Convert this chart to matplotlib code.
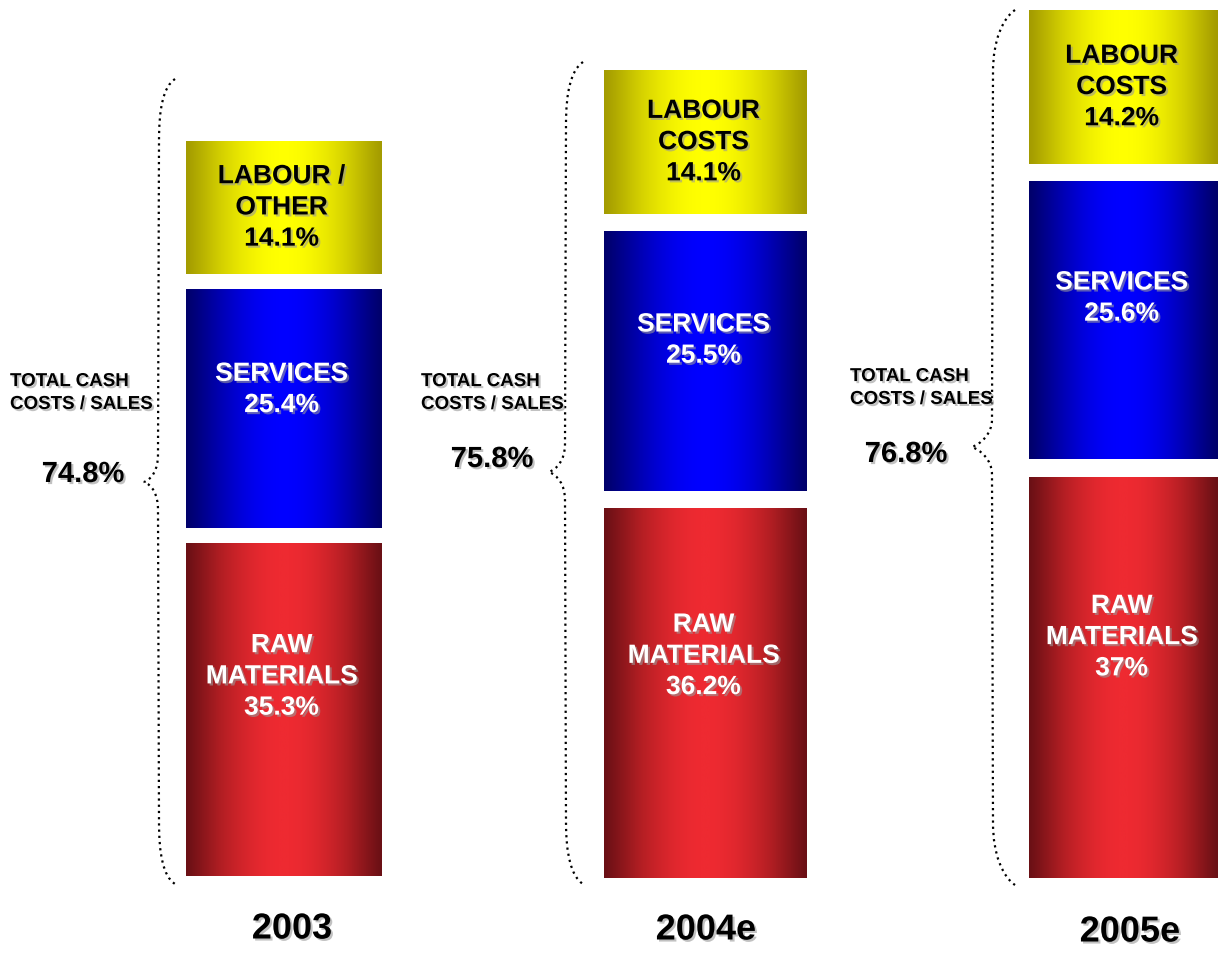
"""
Cash cost structure per year: stacked segments with a brace showing the total.
"""

import numpy as np
import matplotlib
matplotlib.use("Agg")
import matplotlib.pyplot as plt
import matplotlib.patheffects as pe
from matplotlib.colors import LinearSegmentedColormap
from matplotlib.path import Path
from matplotlib.patches import PathPatch

years = ["2003", "2004e", "2005e"]
raw_materials = [35.3, 36.2, 37.0]
services = [25.4, 25.5, 25.6]
labour = [14.1, 14.1, 14.2]
labour_names = ["LABOUR /\nOTHER", "LABOUR\nCOSTS", "LABOUR\nCOSTS"]

W, H = 1224, 954
GAP = 1.6  # white space between segments, in % units

# bar boxes in pixels: left, right, top, bottom
bar_boxes = [(186, 381, 142, 877), (604, 807, 71, 879), (1029, 1218, 11, 879)]
# braces: tip x, body x, point x, top y, point y, bottom y
braces = [(175, 159, 144, 80, 483, 885),
          (583, 566, 549, 63, 473, 885),
          (1015, 993, 972, 11, 448, 886)]
note_pos = [(10, 394), (421, 394), (850, 389)]
total_pos = [(83, 475), (492, 460), (906, 455)]
year_pos = [(292, 930), (706, 931), (1130, 933)]

cmaps = {
    "raw": LinearSegmentedColormap.from_list("raw", ["#6a1015", "#b21e23", "#ee2a31"]),
    "services": LinearSegmentedColormap.from_list("srv", ["#00006a", "#0000b4", "#0000ff"]),
    "labour": LinearSegmentedColormap.from_list("lab", ["#a39b00", "#d4d000", "#ffff00"]),
}

plt.rcParams["font.family"] = ["Liberation Sans", "DejaVu Sans"]
plt.rcParams["font.weight"] = "bold"

fig = plt.figure(figsize=(W / 100, H / 100), dpi=100)
fig.patch.set_facecolor("white")

# overlay in pixel coordinates for braces and outer labels
over = fig.add_axes([0, 0, 1, 1])
over.set_xlim(0, W)
over.set_ylim(H, 0)
over.axis("off")

shadow = [pe.SimplePatchShadow(offset=(1.5, -1.5), shadow_rgbFace="#999999", alpha=0.6),
          pe.Normal()]

xs = np.linspace(0, 1, 256)
profile = np.sin(np.pi * xs) ** 1.1


def draw_brace(ax, tip_x, body_x, point_x, top_y, point_y, bottom_y):
    verts = [(tip_x, top_y),
             (tip_x - 12, top_y + 8), (body_x, top_y + 30), (body_x, top_y + 62),
             (body_x - 1, point_y - 28),
             (body_x - 1, point_y - 12), (point_x + 8, point_y - 3), (point_x, point_y),
             (point_x + 8, point_y + 3), (body_x - 1, point_y + 12), (body_x - 1, point_y + 28),
             (body_x, bottom_y - 62),
             (body_x, bottom_y - 30), (tip_x - 12, bottom_y - 8), (tip_x, bottom_y)]
    codes = [Path.MOVETO,
             Path.CURVE4, Path.CURVE4, Path.CURVE4,
             Path.LINETO,
             Path.CURVE4, Path.CURVE4, Path.CURVE4,
             Path.CURVE4, Path.CURVE4, Path.CURVE4,
             Path.LINETO,
             Path.CURVE4, Path.CURVE4, Path.CURVE4]
    ax.add_patch(PathPatch(Path(verts, codes), facecolor="none", edgecolor="black",
                           lw=1.6, linestyle=(0, (1, 1.8))))


for i, year in enumerate(years):
    left, right, top, bottom = bar_boxes[i]
    ax = fig.add_axes([left / W, 1 - bottom / H, (right - left) / W, (bottom - top) / H])
    ax.axis("off")

    segs = [("raw", raw_materials[i], "RAW\nMATERIALS", "white", 0.6),
            ("services", services[i], "SERVICES", "white", 0.58),
            ("labour", labour[i], labour_names[i], "black", 0.5)]
    base = 0.0
    for key, val, name, tcol, frac in segs:
        rect = ax.bar(0, val, bottom=base, width=1, align="edge",
                      facecolor="none", edgecolor="none")[0]
        im = ax.imshow(profile[np.newaxis, :], extent=(0, 1, base, base + val),
                       aspect="auto", cmap=cmaps[key], vmin=0, vmax=1,
                       interpolation="bilinear")
        im.set_clip_path(rect)
        ax.text(0.49, base + frac * val, f"{name}\n{val:g}%", ha="center", va="center",
                color=tcol, fontsize=19, fontweight="bold", linespacing=1.38,
                path_effects=shadow)
        base += val + GAP

    total = raw_materials[i] + services[i] + labour[i]
    ax.set_xlim(0, 1)
    ax.set_ylim(0, base - GAP)

    draw_brace(over, *braces[i])
    over.text(*note_pos[i], "TOTAL CASH\nCOSTS / SALES", ha="left", va="center",
              fontsize=13.5, fontweight="bold", linespacing=1.45, path_effects=shadow)
    over.text(*total_pos[i], f"{total:.1f}%", ha="center", va="center",
              fontsize=21, fontweight="bold", path_effects=shadow)
    over.text(*year_pos[i], year, ha="center", va="center",
              fontsize=26, fontweight="bold", path_effects=shadow)

fig.savefig("out.png", dpi=100, facecolor="white")
